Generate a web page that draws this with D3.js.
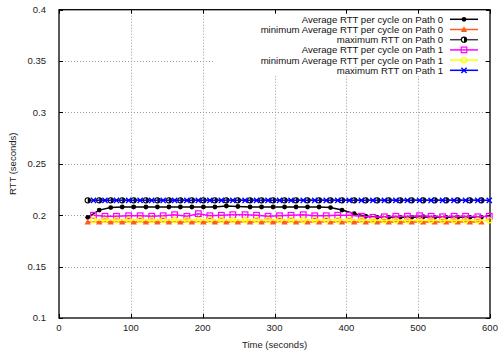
<!DOCTYPE html>
<html>
<head>
<meta charset="utf-8">
<script src="https://cdn.jsdelivr.net/npm/d3@7"></script>
<style>
  html, body { margin: 0; padding: 0; background: #fff; }
  svg { display: block; font-family: "Liberation Sans", Arial, sans-serif; }
  .tick-label { font-size: 9.5px; fill: #222; }
  .legend-label { font-size: 9.6px; fill: #111; }
</style>
</head>
<body>
<svg id="chart" width="499" height="354"></svg>
<script>
// -----------------------------------------------------------------------------
// DATA
// -----------------------------------------------------------------------------

const X_TICKS = [0, 100, 200, 300, 400, 500, 600];
const Y_TICKS = [0.1, 0.15, 0.2, 0.25, 0.3, 0.35, 0.4];
const Y_TICK_LABELS = ['0.1', '0.15', '0.2', '0.25', '0.3', '0.35', '0.4'];

const TIME_PATH0 = [40, 56, 72, 88, 104, 121, 137, 153, 169, 185, 201, 217, 233, 249, 266, 282, 298, 314,
  330, 346, 362, 378, 394, 411, 427, 443, 459, 475, 491, 507, 523, 539, 555, 572, 588];
const TIME_PATH1 = [48, 64, 80, 97, 113, 129, 145, 161, 178, 194, 210, 226, 242, 259, 275, 291, 307, 323,
  340, 356, 372, 388, 404, 421, 437, 453, 469, 485, 502, 518, 534, 550, 566, 583, 599];

const AVG_PATH0 = [0.198, 0.205, 0.2075, 0.208, 0.208, 0.208, 0.208, 0.208, 0.208, 0.208, 0.208, 0.208,
  0.209, 0.2085, 0.208, 0.208, 0.208, 0.208, 0.208, 0.208, 0.208, 0.2075, 0.205, 0.2015, 0.199, 0.198,
  0.198, 0.198, 0.198, 0.1985, 0.198, 0.198, 0.198, 0.198, 0.198];
const MIN_AVG_PATH0 = [0.1935, 0.1935, 0.1935, 0.1935, 0.1935, 0.1935, 0.1935, 0.1935, 0.1935, 0.1935,
  0.1935, 0.1935, 0.1935, 0.1935, 0.1935, 0.1935, 0.1935, 0.1935, 0.1935, 0.1935, 0.1935, 0.1935, 0.1935,
  0.1935, 0.1935, 0.1935, 0.1935, 0.1935, 0.1935, 0.1935, 0.1935, 0.1935, 0.1935, 0.1935, 0.1935];
const MAX_PATH0 = [0.2145, 0.2145, 0.2145, 0.2145, 0.2145, 0.2145, 0.2145, 0.2145, 0.2145, 0.2145,
  0.2145, 0.2145, 0.2145, 0.2145, 0.2145, 0.2145, 0.2145, 0.2145, 0.2145, 0.2145, 0.2145, 0.2145, 0.2145,
  0.2145, 0.2145, 0.2145, 0.2145, 0.2145, 0.2145, 0.2145, 0.2145, 0.2145, 0.2145, 0.2145, 0.2145];

const AVG_PATH1 = [0.2, 0.199, 0.199, 0.1995, 0.1995, 0.199, 0.1995, 0.2005, 0.199, 0.2015, 0.1995, 0.2,
  0.2005, 0.2005, 0.2, 0.199, 0.1995, 0.2, 0.2005, 0.1995, 0.1995, 0.2, 0.2, 0.199, 0.198, 0.1985,
  0.199, 0.199, 0.1995, 0.199, 0.1985, 0.199, 0.199, 0.1985, 0.199];
const MIN_AVG_PATH1 = [0.1953, 0.1953, 0.1953, 0.1953, 0.1953, 0.1953, 0.1953, 0.1953, 0.1953, 0.1953,
  0.1953, 0.1953, 0.1953, 0.1953, 0.1953, 0.1953, 0.1953, 0.1953, 0.1953, 0.1953, 0.1953, 0.1953, 0.1953,
  0.1953, 0.195, 0.195, 0.195, 0.195, 0.195, 0.195, 0.195, 0.195, 0.195, 0.195, 0.195];
const MAX_PATH1 = [0.2145, 0.2145, 0.2145, 0.2145, 0.2145, 0.2145, 0.2145, 0.2145, 0.2145, 0.2145,
  0.2145, 0.2145, 0.2145, 0.2145, 0.2145, 0.2145, 0.2145, 0.2145, 0.2145, 0.2145, 0.2145, 0.2145, 0.2145,
  0.2145, 0.2145, 0.2145, 0.2145, 0.2145, 0.2145, 0.2145, 0.2145, 0.2145, 0.2145, 0.2145, 0.2145];

const SERIES = [
  { name: 'Average RTT per cycle on Path 0', t: TIME_PATH0, v: AVG_PATH0, color: '#000000', marker: 'dot' },
  { name: 'minimum Average RTT per cycle on Path 0', t: TIME_PATH0, v: MIN_AVG_PATH0, color: '#ff5a1e', marker: 'triangle' },
  { name: 'maximum RTT on Path 0', t: TIME_PATH0, v: MAX_PATH0, color: '#404040', marker: 'halfcircle' },
  { name: 'Average RTT per cycle on Path 1', t: TIME_PATH1, v: AVG_PATH1, color: '#ff00ff', marker: 'square' },
  { name: 'minimum Average RTT per cycle on Path 1', t: TIME_PATH1, v: MIN_AVG_PATH1, color: '#ffff00', marker: 'circle' },
  { name: 'maximum RTT on Path 1', t: TIME_PATH1, v: MAX_PATH1, color: '#0000ff', marker: 'cross' }
];

// -----------------------------------------------------------------------------
// LAYOUT
// -----------------------------------------------------------------------------

const W = 499, H = 354;
const M = { left: 59, right: 9, top: 9.7, bottom: 36 };
const svg = d3.select('#chart');

const x = d3.scaleLinear().domain([0, 600]).range([M.left, W - M.right]);
const y = d3.scaleLinear().domain([0.1, 0.4]).range([H - M.bottom, M.top]);

// grid
const grid = svg.append('g').attr('stroke', '#9a9a9a').attr('stroke-width', 1).attr('stroke-dasharray', '1,2');
X_TICKS.slice(1, -1).forEach(t => {
  grid.append('line').attr('x1', Math.round(x(t)) + 0.5).attr('x2', Math.round(x(t)) + 0.5)
    .attr('y1', y(0.4)).attr('y2', y(0.1));
});
Y_TICKS.slice(1, -1).forEach(t => {
  grid.append('line').attr('x1', x(0)).attr('x2', x(600))
    .attr('y1', Math.round(y(t)) + 0.5).attr('y2', Math.round(y(t)) + 0.5);
});

// opaque key box hides the grid behind it
const KEY = { x0: 213, x1: 485, y0: 10.5, y1: 76 };
svg.append('rect').attr('x', KEY.x0).attr('y', KEY.y0)
  .attr('width', KEY.x1 - KEY.x0).attr('height', KEY.y1 - KEY.y0).attr('fill', '#fff');

// ticks (inward, mirrored) and border
const ticks = svg.append('g').attr('stroke', '#000').attr('stroke-width', 1);
const TL = 4;
X_TICKS.forEach(t => {
  const px = Math.round(x(t)) + 0.5;
  ticks.append('line').attr('x1', px).attr('x2', px).attr('y1', y(0.1)).attr('y2', y(0.1) - TL);
  ticks.append('line').attr('x1', px).attr('x2', px).attr('y1', y(0.4)).attr('y2', y(0.4) + TL);
});
Y_TICKS.forEach(t => {
  const py = Math.round(y(t)) + 0.5;
  ticks.append('line').attr('x1', x(0)).attr('x2', x(0) + TL).attr('y1', py).attr('y2', py);
  ticks.append('line').attr('x1', x(600)).attr('x2', x(600) - TL).attr('y1', py).attr('y2', py);
});
svg.append('rect').attr('x', x(0)).attr('y', y(0.4))
  .attr('width', x(600) - x(0)).attr('height', y(0.1) - y(0.4))
  .attr('fill', 'none').attr('stroke', '#000').attr('stroke-width', 1.3);

// tick labels
svg.append('g').selectAll('text').data(X_TICKS).join('text')
  .attr('class', 'tick-label').attr('x', d => x(d)).attr('y', H - M.bottom + 13)
  .attr('text-anchor', 'middle').text(d => d);
svg.append('g').selectAll('text').data(Y_TICKS).join('text')
  .attr('class', 'tick-label').attr('x', M.left - 13).attr('y', d => y(d) + 3.4)
  .attr('text-anchor', 'end').text((d, i) => Y_TICK_LABELS[i]);

// axis titles
svg.append('text').attr('class', 'tick-label').attr('x', (x(0) + x(600)) / 2).attr('y', H - 6)
  .attr('text-anchor', 'middle').text('Time (seconds)');
svg.append('text').attr('class', 'tick-label')
  .attr('transform', `translate(16,${(y(0.1) + y(0.4)) / 2}) rotate(-90)`)
  .attr('text-anchor', 'middle').text('RTT (seconds)');

// -----------------------------------------------------------------------------
// MARKERS
// -----------------------------------------------------------------------------

function drawMarker(g, kind, cx, cy, color) {
  if (kind === 'dot') {
    g.append('circle').attr('cx', cx).attr('cy', cy).attr('r', 2.4).attr('fill', color);
  } else if (kind === 'triangle') {
    const s = 3.2;
    g.append('path').attr('d', `M${cx},${cy - s}L${cx + s},${cy + s * 0.8}L${cx - s},${cy + s * 0.8}Z`).attr('fill', color);
  } else if (kind === 'halfcircle') {
    g.append('circle').attr('cx', cx).attr('cy', cy).attr('r', 2.6).attr('fill', '#fff')
      .attr('stroke', '#000').attr('stroke-width', 1.1);
    g.append('path').attr('d', `M${cx},${cy - 2.6}A2.6,2.6 0 0 1 ${cx},${cy + 2.6}Z`).attr('fill', '#000');
  } else if (kind === 'square') {
    g.append('rect').attr('x', cx - 2.8).attr('y', cy - 2.8).attr('width', 5.6).attr('height', 5.6)
      .attr('fill', 'none').attr('stroke', color).attr('stroke-width', 1.2);
  } else if (kind === 'circle') {
    g.append('circle').attr('cx', cx).attr('cy', cy).attr('r', 2.6).attr('fill', 'none')
      .attr('stroke', color).attr('stroke-width', 1.2);
  } else if (kind === 'cross') {
    const s = 2.6;
    g.append('path').attr('d', `M${cx - s},${cy - s}L${cx + s},${cy + s}M${cx - s},${cy + s}L${cx + s},${cy - s}`)
      .attr('stroke', color).attr('stroke-width', 1.4);
  }
}

// -----------------------------------------------------------------------------
// SERIES
// -----------------------------------------------------------------------------

const line = d3.line().x(d => x(d[0])).y(d => y(d[1]));
const plot = svg.append('g');
SERIES.forEach(s => {
  const pts = s.t.map((t, i) => [t, s.v[i]]);
  const g = plot.append('g');
  g.append('path').datum(pts).attr('d', line).attr('fill', 'none')
    .attr('stroke', s.color).attr('stroke-width', 1.5);
  pts.forEach(p => drawMarker(g, s.marker, x(p[0]), y(p[1]), s.color));
});

// -----------------------------------------------------------------------------
// LEGEND
// -----------------------------------------------------------------------------

const legend = svg.append('g');
SERIES.forEach((s, i) => {
  const ly = 19.3 + i * 10.2;
  legend.append('text').attr('class', 'legend-label').attr('x', 443).attr('y', ly + 3.4)
    .attr('text-anchor', 'end').text(s.name);
  legend.append('line').attr('x1', 450).attr('x2', 478).attr('y1', ly).attr('y2', ly)
    .attr('stroke', s.color).attr('stroke-width', 1.5);
  drawMarker(legend, s.marker, 464, ly, s.color);
});
</script>
</body>
</html>
